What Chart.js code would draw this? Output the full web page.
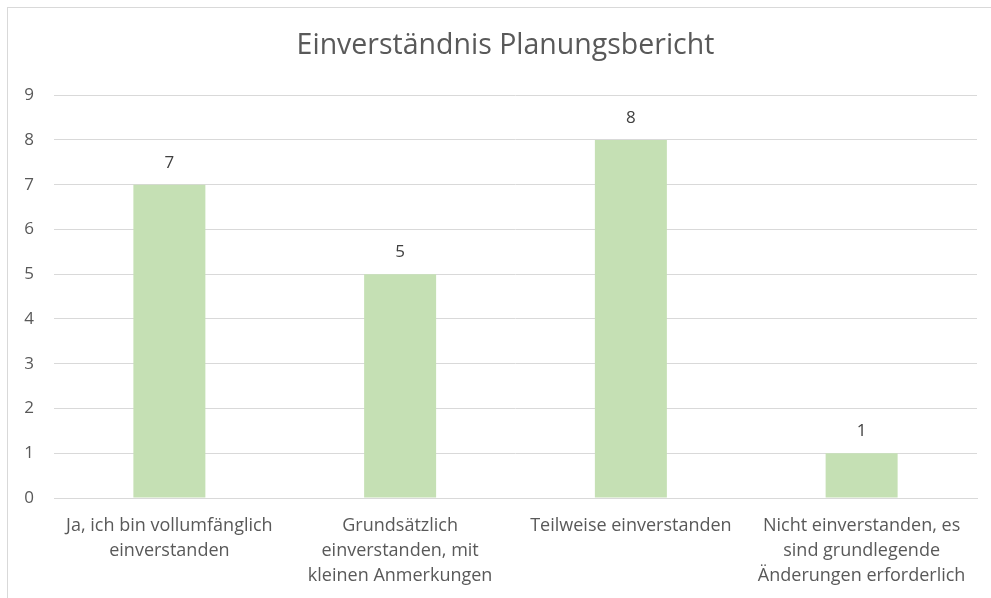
<!DOCTYPE html>
<html>
<head>
<meta charset="utf-8">
<script src="https://cdn.jsdelivr.net/npm/chart.js@4.4.1/dist/chart.umd.min.js"></script>
<style>
  html, body { margin: 0; padding: 0; background: #fff; overflow: hidden; width: 991px; height: 598px; }
  #wrap { position: absolute; left: 7px; top: 7px; width: 1000px; height: 600px; border: 1px solid #d9d9d9; box-sizing: border-box; }
  canvas { display: block; }
</style>
</head>
<body>
<div id="wrap"><canvas id="c" width="995" height="598"></canvas></div>
<script>
const categories = [
  ["Ja, ich bin vollumfänglich", "einverstanden"],
  ["Grundsätzlich", "einverstanden, mit", "kleinen Anmerkungen"],
  ["Teilweise einverstanden"],
  ["Nicht einverstanden, es", "sind grundlegende", "Änderungen erforderlich"]
];
const values = [7, 5, 8, 1];
const yTicks = [0, 1, 2, 3, 4, 5, 6, 7, 8, 9];
const titleText = "Einverständnis Planungsbericht";

const FONT = "'Open Sans', sans-serif";
const TEXT = "#595959";
const GRID = "#d9d9d9";

const dataLabels = {
  id: 'dataLabels',
  afterDatasetsDraw(chart) {
    const ctx = chart.ctx;
    const meta = chart.getDatasetMeta(0);
    ctx.save();
    ctx.font = "17px " + FONT;
    ctx.fillStyle = "#404040";
    ctx.textAlign = "center";
    ctx.textBaseline = "middle";
    meta.data.forEach((bar, i) => {
      ctx.fillText(String(values[i]), bar.x, bar.y - 22);
    });
    ctx.restore();
  }
};

new Chart(document.getElementById('c'), {
  type: 'bar',
  data: {
    labels: categories,
    datasets: [{
      data: values,
      backgroundColor: "#c5e0b4",
      borderWidth: 0,
      categoryPercentage: 1,
      barPercentage: 0.312,
      yAxisID: 'y'
    }]
  },
  options: {
    responsive: false,
    animation: false,
    devicePixelRatio: 1,
    layout: { padding: 0 },
    plugins: {
      legend: { display: false },
      tooltip: { enabled: false },
      title: {
        display: true,
        text: titleText,
        color: TEXT,
        font: { family: FONT, size: 28.5, weight: 'normal', lineHeight: 1.2 },
        padding: { top: 21, bottom: 32 }
      }
    },
    scales: {
      x: {
        grid: { display: false, drawTicks: false },
        border: { display: true, color: GRID, width: 1 },
        ticks: {
          color: TEXT,
          font: { family: FONT, size: 18, lineHeight: 1.39 },
          maxRotation: 0,
          autoSkip: false,
          padding: 15
        },
        afterFit(scale) { scale.height = 108; }
      },
      y: {
        min: 0,
        max: 9,
        afterBuildTicks(scale) { scale.ticks = yTicks.map(v => ({ value: v })); },
        grid: { color: GRID, lineWidth: 1, drawTicks: false },
        border: { display: false },
        ticks: {
          color: TEXT,
          font: { family: FONT, size: 17 },
          padding: 20
        },
        afterFit(scale) { scale.width = 46; }
      },
      yRight: {
        position: 'right',
        min: 0,
        max: 9,
        grid: { display: false, drawTicks: false },
        border: { display: false },
        ticks: { display: false },
        afterFit(scale) { scale.width = 26; }
      }
    }
  },
  plugins: [dataLabels]
});
</script>
</body>
</html>
